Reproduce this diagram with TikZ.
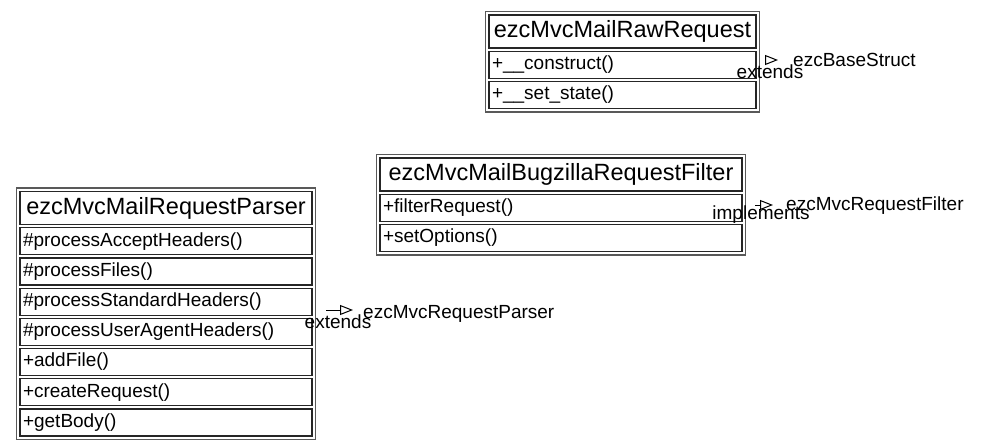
\documentclass[tikz,border=0pt]{standalone}
\usepackage{fontspec}
\setmainfont{Liberation Sans}
\usetikzlibrary{positioning,fit,arrows.meta}
\tikzset{
  classname/.style={draw=black!85, line width=1.2pt, minimum height=33pt, inner sep=0pt,
    font=\fontsize{23.5pt}{26pt}\selectfont},
  member/.style={draw=black!85, line width=1.2pt, minimum height=27pt, inner xsep=3pt,
    inner ysep=0pt, align=left, font=\fontsize{19pt}{21pt}\selectfont},
  classframe/.style={draw=black!65, line width=1.6pt, inner sep=3pt},
  reltext/.style={inner sep=2pt, font=\fontsize{19pt}{21pt}\selectfont},
  inherit/.style={line width=1pt, -{Triangle[open, length=13pt, width=10pt]}}
}
\begin{document}
\begin{tikzpicture}[x=1pt, y=-1pt]
  \useasboundingbox (0,0) rectangle (981,447);
  % ezcMvcMailRawRequest
  \node[classname, minimum width=267pt] (raw) at (622.5,31.5) {ezcMvcMailRawRequest};
  \node[member, text width=261pt, below=2pt of raw] (raw1) {+\_\_construct()};
  \node[member, text width=261pt, below=2pt of raw1] (raw2) {+\_\_set\_state()};
  \node[classframe, fit=(raw) (raw2)] (rawbox) {};
  % ezcMvcMailBugzillaRequestFilter
  \node[classname, minimum width=362pt] (bug) at (561,174.5) {ezcMvcMailBugzillaRequestFilter};
  \node[member, text width=356pt, below=2pt of bug] (bug1) {+filterRequest()};
  \node[member, text width=356pt, below=2pt of bug1] (bug2) {+setOptions()};
  \node[classframe, fit=(bug) (bug2)] (bugbox) {};
  % ezcMvcMailRequestParser
  \node[classname, minimum width=292pt] (parser) at (166,208) {ezcMvcMailRequestParser};
  \node[member, text width=286pt, below=2pt of parser] (parser1) {\#processAcceptHeaders()};
  \node[member, text width=286pt, below=2pt of parser1] (parser2) {\#processFiles()};
  \node[member, text width=286pt, below=2pt of parser2] (parser3) {\#processStandardHeaders()};
  \node[member, text width=286pt, below=2pt of parser3] (parser4) {\#processUserAgentHeaders()};
  \node[member, text width=286pt, below=2pt of parser4] (parser5) {+addFile()};
  \node[member, text width=286pt, below=2pt of parser5] (parser6) {+createRequest()};
  \node[member, text width=286pt, below=2pt of parser6] (parser7) {+getBody()};
  \node[classframe, fit=(parser) (parser7)] (parserbox) {};
  % relations
  \node[reltext, anchor=base west] (rawsuper) at (791,66) {ezcBaseStruct};
  \node[reltext, anchor=base] (rawrel) at (770,78) {extends};
  \coordinate (rawtail) at (765,60);
  \draw[inherit, shorten >=13pt] (rawtail) -- (rawtail -| rawsuper.west);
  \node[reltext, anchor=base west] (bugsuper) at (784,210) {ezcMvcRequestFilter};
  \node[reltext, anchor=base] (bugrel) at (761,219) {implements};
  \coordinate (bugtail) at (755,205);
  \draw[inherit, shorten >=11pt] (bugtail) -- (bugtail -| bugsuper.west);
  \node[reltext, anchor=base west] (parsersuper) at (361,318) {ezcMvcRequestParser};
  \node[reltext, anchor=base] (parserrel) at (338,328) {extends};
  \coordinate (parsertail) at (326,310);
  \draw[inherit, shorten >=8pt] (parsertail) -- (parsertail -| parsersuper.west);
\end{tikzpicture}
\end{document}
